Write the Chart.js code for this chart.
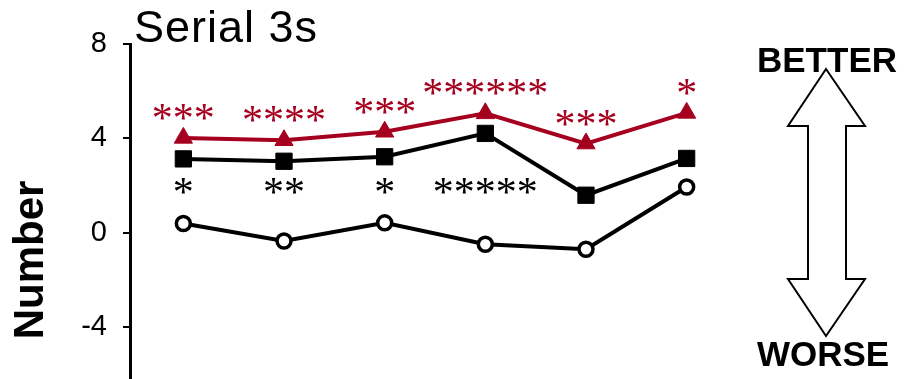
<!DOCTYPE html>
<html>
<head>
<meta charset="utf-8">
<script src="https://cdn.jsdelivr.net/npm/chart.js@4/dist/chart.umd.min.js"></script>
<style>
  html, body { margin: 0; padding: 0; background: #fff; overflow: hidden; }
  #wrap { width: 904px; height: 379px; position: relative; }
</style>
</head>
<body>
<div id="wrap"><canvas id="chart"></canvas></div>
<script>
// sessions along the x axis (not labelled)
const sessions = [1, 2, 3, 4, 5, 6];

// mean change per group
const triangleValues = [4.02, 3.92, 4.28, 5.06, 3.78, 5.08];
const squareValues = [3.13, 3.03, 3.22, 4.21, 1.59, 3.15];
const circleValues = [0.39, -0.35, 0.42, -0.49, -0.70, 1.94];

// significance markers
const triangleStars = ['***', '****', '***', '******', '***', '*'];
const squareStars = ['*', '**', '*', '*****', '', ''];

const yTicks = [-4, 0, 4, 8];

const RED = '#A6001F';

const toPoints = vals => vals.map((v, i) => ({ x: i, y: v }));

const extras = {
  id: 'extras',
  afterDatasetsDraw(chart) {
    const ctx = chart.ctx;
    const ys = chart.scales.y;
    ctx.save();
    ctx.font = '42px "Liberation Serif", "Times New Roman", serif';
    ctx.textAlign = 'center';
    ctx.textBaseline = 'alphabetic';
    const m = ctx.measureText('*');
    const mid = (m.actualBoundingBoxAscent - m.actualBoundingBoxDescent) / 2;

    // red stars float above each triangle
    ctx.fillStyle = RED;
    chart.getDatasetMeta(0).data.forEach((pt, i) => {
      if (!triangleStars[i]) return;
      ctx.fillText(triangleStars[i], pt.x, pt.y - 26 + mid);
    });

    // black stars sit on one row under the squares
    ctx.fillStyle = '#000';
    const rowY = ys.getPixelForValue(2);
    chart.getDatasetMeta(1).data.forEach((pt, i) => {
      if (!squareStars[i]) return;
      ctx.fillText(squareStars[i], pt.x, rowY + mid);
    });
    ctx.restore();
  },
  afterDraw(chart) {
    const ctx = chart.ctx;
    ctx.save();

    // title
    ctx.fillStyle = '#000';
    ctx.font = '45px "Liberation Sans", Arial, sans-serif';
    ctx.letterSpacing = '1px';
    ctx.textAlign = 'left';
    ctx.textBaseline = 'alphabetic';
    ctx.fillText('Serial 3s', 134, 42);
    ctx.letterSpacing = '0px';

    // y axis title
    ctx.save();
    ctx.translate(43, 260);
    ctx.rotate(-Math.PI / 2);
    ctx.font = 'bold 42px "Liberation Sans", Arial, sans-serif';
    ctx.textAlign = 'center';
    ctx.fillText('Number', 0, 0);
    ctx.restore();

    // double headed arrow
    ctx.beginPath();
    ctx.moveTo(826, 69);
    ctx.lineTo(865, 126);
    ctx.lineTo(846, 126);
    ctx.lineTo(846, 279);
    ctx.lineTo(865, 279);
    ctx.lineTo(826, 336);
    ctx.lineTo(788, 279);
    ctx.lineTo(808, 279);
    ctx.lineTo(808, 126);
    ctx.lineTo(788, 126);
    ctx.closePath();
    ctx.fillStyle = '#fff';
    ctx.fill();
    ctx.lineWidth = 2;
    ctx.strokeStyle = '#000';
    ctx.stroke();

    ctx.fillStyle = '#000';
    ctx.font = 'bold 35px "Liberation Sans", Arial, sans-serif';
    ctx.textAlign = 'center';
    ctx.fillText('BETTER', 827, 72);
    ctx.fillText('WORSE', 823, 366);
    ctx.restore();
  }
};

new Chart(document.getElementById('chart'), {
  type: 'line',
  data: {
    datasets: [
      {
        label: 'triangle',
        data: toPoints(triangleValues),
        borderColor: RED,
        backgroundColor: RED,
        borderWidth: 4,
        pointStyle: 'triangle',
        pointRadius: 10.5,
        pointBorderWidth: 1,
        pointBackgroundColor: RED,
        pointBorderColor: RED,
        tension: 0
      },
      {
        label: 'square',
        data: toPoints(squareValues),
        borderColor: '#000',
        backgroundColor: '#000',
        borderWidth: 4,
        pointStyle: 'rect',
        pointRadius: 11.5,
        pointBorderWidth: 1,
        pointBackgroundColor: '#000',
        pointBorderColor: '#000',
        tension: 0
      },
      {
        label: 'circle',
        data: toPoints(circleValues),
        borderColor: '#000',
        backgroundColor: '#fff',
        borderWidth: 4,
        pointStyle: 'circle',
        pointRadius: 7,
        pointBorderWidth: 3.5,
        pointBackgroundColor: '#fff',
        pointBorderColor: '#000',
        tension: 0
      }
    ]
  },
  options: {
    responsive: true,
    maintainAspectRatio: false,
    animation: false,
    devicePixelRatio: 1,
    layout: { autoPadding: false, padding: { top: 44, right: 164, bottom: 0, left: 0 } },
    plugins: {
      legend: { display: false },
      tooltip: { enabled: false }
    },
    scales: {
      x: {
        type: 'linear',
        display: false,
        min: -0.53,
        max: sessions.length - 1 + 0.53
      },
      y: {
        min: -6.2,
        max: 8,
        afterBuildTicks: scale => { scale.ticks = yTicks.map(v => ({ value: v })); },
        afterFit: scale => {
          scale.width = 130;
          scale.paddingTop = 0;
          scale.paddingBottom = 0;
        },
        border: { display: true, color: '#000', width: 3 },
        grid: {
          display: true,
          drawOnChartArea: false,
          drawTicks: true,
          tickLength: 7,
          color: '#000',
          lineWidth: 2
        },
        ticks: {
          color: '#000',
          padding: 16,
          font: { family: '"Liberation Sans", Arial, sans-serif', size: 29 }
        }
      }
    }
  },
  plugins: [extras]
});
</script>
</body>
</html>
